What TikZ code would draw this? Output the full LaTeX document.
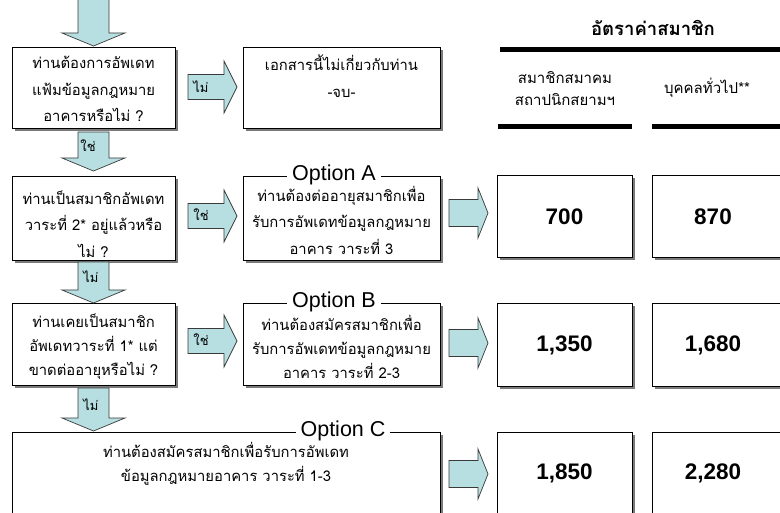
\documentclass[tikz,border=0pt]{standalone}
\usepackage{fontspec}
\setmainfont{Liberation Sans}
\newfontfamily\thai[Script=Thai]{Loma}
\usetikzlibrary{shadows}
\definecolor{arrowfill}{HTML}{B7DEE1}
\definecolor{arrowline}{HTML}{3A3A3A}
\definecolor{shadowgray}{HTML}{7A7A7A}
\tikzset{
  box/.style={draw=black, line width=0.9pt, fill=white, anchor=north west, inner sep=0pt,
    drop shadow={shadow xshift=2.4pt, shadow yshift=-2.4pt, fill=shadowgray, opacity=1}},
  blockarrow/.style={draw=arrowline, line width=0.7pt, fill=arrowfill, line join=miter},
  thaitext/.style={font=\thai\fontsize{14.8}{26.5}\selectfont, align=center, inner sep=0pt},
  thaitight/.style={font=\thai\fontsize{14.8}{24}\selectfont, align=center, inner sep=0pt},
  headtext/.style={font=\thai\fontsize{15}{22}\selectfont, align=center, inner sep=0pt},
  titletext/.style={font=\thai\bfseries\fontsize{18.5}{22}\selectfont, inner sep=0pt},
  arrlabel/.style={font=\thai\fontsize{13}{15}\selectfont, inner sep=0pt},
  optlabel/.style={font=\fontsize{21.5}{24}\selectfont, fill=white, inner xsep=5pt, inner ysep=0pt},
  price/.style={font=\bfseries\fontsize{22.5}{26}\selectfont, inner sep=0pt},
  rule/.style={line width=5pt, black},
  rightarrow/.pic={\draw[blockarrow] (0,-12.5) -- (36,-12.5) -- (36,-26) -- (49,0) -- (36,26) -- (36,12.5) -- (0,12.5) -- cycle;},
  pricearrow/.pic={\draw[blockarrow] (0,-13.5) -- (29,-13.5) -- (29,-25) -- (39,0) -- (29,25) -- (29,13.5) -- (0,13.5) -- cycle;},
  downarrow/.pic={\draw[blockarrow] (-15.5,0) -- (15.5,0) -- (15.5,#1) -- (31.5,#1) -- (0,#1+13) -- (-31.5,#1) -- (-15.5,#1) -- cycle;}
}
\begin{document}
\begin{tikzpicture}[x=1pt,y=-1pt]
\useasboundingbox (0,0) rectangle (780,513);
\fill[white] (0,0) rectangle (780,513);

% left column boxes
\node[box, minimum width=163pt, minimum height=81pt] (q1) at (12,47) {};
\node[box, minimum width=197pt, minimum height=81pt] (q2) at (243,47) {};
\node[box, minimum width=163pt, minimum height=84pt] (qa) at (12,176) {};
\node[box, minimum width=197pt, minimum height=84pt] (oa) at (243,176) {};
\node[box, minimum width=163pt, minimum height=82pt] (qb) at (12,303) {};
\node[box, minimum width=197pt, minimum height=82pt] (ob) at (243,303) {};
\node[box, minimum width=428pt, minimum height=100pt] (oc) at (12,432) {};

% price boxes
\node[box, minimum width=135pt, minimum height=82pt] (pa1) at (497,175) {};
\node[box, minimum width=136pt, minimum height=82pt] (pa2) at (652,175) {};
\node[box, minimum width=135pt, minimum height=83pt] (pb1) at (497,303) {};
\node[box, minimum width=136pt, minimum height=83pt] (pb2) at (652,303) {};
\node[box, minimum width=135pt, minimum height=100pt] (pc1) at (497,432) {};
\node[box, minimum width=136pt, minimum height=100pt] (pc2) at (652,432) {};

% texts in boxes
\node[thaitext] (q1t) at (93.5,89) {ท่านต้องการอัพเดท\\แฟ้มข้อมูลกฎหมาย\\อาคารหรือไม่ ?};
\node[thaitext] (q2t) at (341.5,76) {เอกสารนี้ไม่เกี่ยวกับท่าน\\-จบ-};
\node[thaitext] (qat) at (93.5,224) {ท่านเป็นสมาชิกอัพเดท\\วาระที่ 2* อยู่แล้วหรือ\\ไม่ ?};
\node[thaitext] (oat) at (341.5,220) {ท่านต้องต่ออายุสมาชิกเพื่อ\\รับการอัพเดทข้อมูลกฎหมาย\\อาคาร วาระที่ 3};
\node[thaitight] (qbt) at (93.5,347) {ท่านเคยเป็นสมาชิก\\อัพเดทวาระที่ 1* แต่\\ขาดต่ออายุหรือไม่ ?};
\node[thaitight] (obt) at (341.5,347) {ท่านต้องสมัครสมาชิกเพื่อ\\รับการอัพเดทข้อมูลกฎหมาย\\อาคาร วาระที่ 2-3};
\node[thaitight] (oct) at (226,464) {ท่านต้องสมัครสมาชิกเพื่อรับการอัพเดท\\ข้อมูลกฎหมายอาคาร วาระที่ 1-3};

% option labels
\node[optlabel] (optA) at (334,175) {Option A};
\node[optlabel] (optB) at (334,302) {Option B};
\node[optlabel] (optC) at (343,431) {Option C};

% arrows
\pic at (93.5,-2) {downarrow=35};
\pic at (93.5,132) {downarrow=26};
\pic at (93.5,262) {downarrow=28};
\pic at (93.5,388) {downarrow=30};
\pic at (188,87) {rightarrow};
\pic at (188,216) {rightarrow};
\pic at (188,341) {rightarrow};
\pic at (449,213) {pricearrow};
\pic at (449,343) {pricearrow};
\pic at (449,474) {pricearrow};

% arrow labels
\node[arrlabel] (l1) at (201,87) {ไม่};
\node[arrlabel] (l2) at (88,146) {ใช่};
\node[arrlabel] (l3) at (201,215) {ใช่};
\node[arrlabel] (l4) at (91,277) {ไม่};
\node[arrlabel] (l5) at (201,340) {ใช่};
\node[arrlabel] (l6) at (91,405) {ไม่};

% rate table header
\node[titletext] (title) at (653,28) {อัตราค่าสมาชิก};
\coordinate (r1s) at (500,50);
\coordinate (r1e) at (790,50);
\coordinate (r2s) at (498,127);
\coordinate (r2e) at (632,127);
\coordinate (r3s) at (652,127);
\coordinate (r3e) at (790,127);
\draw[rule] (r1s) -- (r1e);
\draw[rule] (r2s) -- (r2e);
\draw[rule] (r3s) -- (r3e);
\node[headtext] (h1) at (565,89) {สมาชิกสมาคม\\สถาปนิกสยามฯ};
\node[headtext] (h2) at (707,88) {บุคคลทั่วไป**};

% prices
\node[price] (va1) at (564.5,217) {700};
\node[price] (va2) at (713,217) {870};
\node[price] (vb1) at (564.5,345) {1,350};
\node[price] (vb2) at (713,345) {1,680};
\node[price] (vc1) at (564.5,473) {1,850};
\node[price] (vc2) at (713,473) {2,280};
\end{tikzpicture}
\end{document}
